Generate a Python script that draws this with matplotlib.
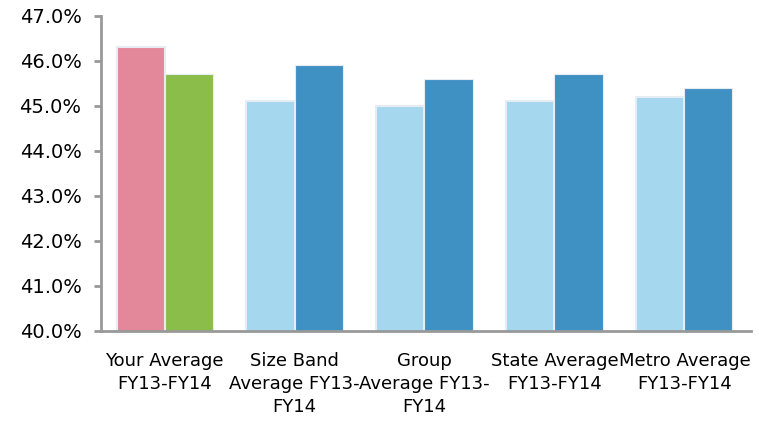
import numpy as np
import matplotlib.pyplot as plt
from matplotlib.ticker import FuncFormatter

# Data
categories = ["Your Average\nFY13-FY14", "Size Band\nAverage FY13-\nFY14",
              "Group\nAverage FY13-\nFY14", "State Average\nFY13-FY14",
              "Metro Average\nFY13-FY14"]
first_values = [46.3, 45.1, 45.0, 45.1, 45.2]
second_values = [45.7, 45.9, 45.6, 45.7, 45.4]
first_colors = ["#E2889A", "#A5D7EE", "#A5D7EE", "#A5D7EE", "#A5D7EE"]
second_colors = ["#8BBD4A", "#4091C3", "#4091C3", "#4091C3", "#4091C3"]

plt.rcParams['font.family'] = ['DejaVu Sans']

fig = plt.figure(figsize=(7.59, 4.21), dpi=100)
ax = fig.add_axes([0.133, 0.214, 0.856, 0.748])

x = np.arange(len(categories))
width = 0.37
ax.bar(x - width / 2, first_values, width, color=first_colors,
       edgecolor="#E6ECF2", linewidth=1.5)
ax.bar(x + width / 2, second_values, width, color=second_colors,
       edgecolor="#E6ECF2", linewidth=0.8)

ax.set_ylim(40, 47)
ax.set_xlim(-0.49, 4.51)
ax.set_yticks(np.arange(40, 47.5, 1))
ax.yaxis.set_major_formatter(FuncFormatter(lambda v, p: f"{v:.1f}%"))
ax.set_xticks(x)
ax.set_xticklabels(categories, fontsize=13, linespacing=1.38)
ax.tick_params(axis='y', labelsize=14, length=5, width=2, color="#999999", pad=9)
ax.tick_params(axis='x', length=0, pad=15)

for side in ["top", "right"]:
    ax.spines[side].set_visible(False)
for side in ["left", "bottom"]:
    ax.spines[side].set_color("#999999")
    ax.spines[side].set_linewidth(2)

fig.savefig("out.png", dpi=100)
